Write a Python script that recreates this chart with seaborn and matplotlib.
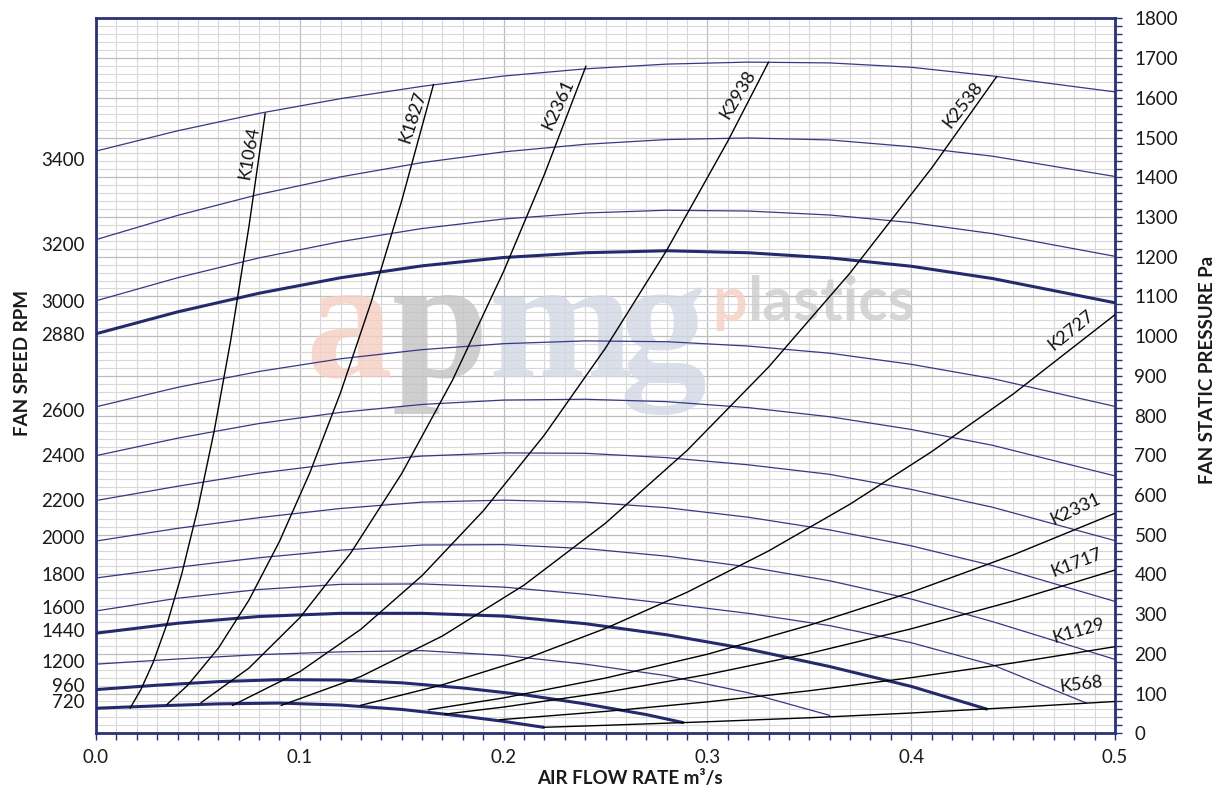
import matplotlib
matplotlib.use('Agg')
import matplotlib.pyplot as plt
from matplotlib.ticker import MultipleLocator
import seaborn as sns

# ---- fan curves (air flow m3/s, static pressure Pa) ----
flow_full = [0.0, 0.04, 0.08, 0.12, 0.16, 0.20, 0.24, 0.28, 0.32, 0.36, 0.40, 0.44, 0.50]
p_3400 = [1466, 1517, 1561, 1598, 1629, 1655, 1673, 1685, 1690, 1688, 1677, 1655, 1615]
p_3200 = [1243, 1304, 1357, 1401, 1437, 1464, 1483, 1495, 1499, 1494, 1477, 1453, 1402]
p_3000 = [1089, 1147, 1197, 1238, 1271, 1295, 1310, 1317, 1315, 1305, 1286, 1258, 1201]
p_2880 = [1006, 1061, 1108, 1147, 1177, 1198, 1210, 1215, 1210, 1197, 1176, 1145, 1084]
p_2600 = [822, 871, 911, 943, 966, 981, 988, 986, 975, 957, 929, 893, 823]
p_2400 = [699, 743, 780, 808, 828, 839, 841, 835, 820, 797, 765, 725, 648]
p_2200 = [586, 622, 655, 680, 698, 706, 705, 694, 676, 652, 614, 569, 485]
p_2000 = [484, 516, 543, 566, 582, 587, 582, 568, 544, 512, 472, 422, 332]
p_1800 = [391, 418, 442, 461, 474, 475, 465, 446, 419, 384, 338, 281, 186]

q_1600 = [0.0, 0.04, 0.08, 0.12, 0.16, 0.20, 0.24, 0.28, 0.32, 0.36, 0.40, 0.44, 0.486]
p_1600 = [308, 340, 362, 375, 376, 368, 350, 327, 302, 271, 228, 172, 76]
q_1440 = [0.0, 0.04, 0.08, 0.12, 0.16, 0.20, 0.24, 0.28, 0.32, 0.36, 0.40, 0.437]
p_1440 = [252, 277, 294, 302, 302, 295, 276, 248, 212, 168, 118, 61]
q_1200 = [0.0, 0.04, 0.08, 0.12, 0.16, 0.20, 0.24, 0.28, 0.32, 0.36]
p_1200 = [174, 187, 198, 205, 208, 196, 174, 145, 102, 45]
q_960 = [0.0, 0.03, 0.06, 0.09, 0.12, 0.15, 0.18, 0.21, 0.24, 0.27, 0.288]
p_960 = [110, 121, 130, 135, 134, 127, 114, 97, 74, 47, 27]
q_720 = [0.0, 0.03, 0.06, 0.09, 0.12, 0.15, 0.18, 0.20, 0.2196]
p_720 = [63, 69, 74, 76, 71, 60, 43, 30, 15]

bold_rpm = [720, 960, 1440, 2880]

# ---- system resistance curves ----
k1064_q = [0.0167, 0.022, 0.028, 0.035, 0.042, 0.050, 0.058, 0.066, 0.075, 0.083]
k1064_p = [63, 110, 178, 278, 400, 567, 762, 987, 1275, 1561]
k1827_q = [0.0347, 0.045, 0.06, 0.075, 0.09, 0.105, 0.12, 0.135, 0.15, 0.1656]
k1827_p = [72, 121, 214, 335, 483, 657, 858, 1086, 1341, 1634]
k2361_q = [0.0515, 0.075, 0.10, 0.125, 0.15, 0.175, 0.20, 0.22, 0.2404]
k2361_p = [77, 164, 291, 454, 654, 890, 1163, 1407, 1680]
k2938_q = [0.0669, 0.10, 0.13, 0.16, 0.19, 0.22, 0.25, 0.28, 0.31, 0.330]
k2938_p = [70, 155, 262, 397, 560, 751, 970, 1216, 1491, 1690]
k2538_q = [0.0908, 0.13, 0.17, 0.21, 0.25, 0.29, 0.33, 0.37, 0.41, 0.442]
k2538_p = [70, 143, 245, 373, 529, 712, 922, 1159, 1423, 1654]
k2727_q = [0.1296, 0.17, 0.21, 0.25, 0.29, 0.33, 0.37, 0.41, 0.45, 0.50]
k2727_p = [70, 122, 186, 264, 355, 459, 577, 709, 854, 1054]
k2331_q = [0.163, 0.20, 0.25, 0.30, 0.35, 0.40, 0.45, 0.50]
k2331_p = [59, 89, 139, 199, 272, 355, 449, 554]
k1717_q = [0.171, 0.20, 0.25, 0.30, 0.35, 0.40, 0.45, 0.50]
k1717_p = [48, 66, 103, 148, 201, 263, 333, 411]
k1129_q = [0.198, 0.25, 0.30, 0.35, 0.40, 0.45, 0.50]
k1129_p = [34, 55, 79, 107, 140, 177, 218]
k568_q = [0.2196, 0.25, 0.30, 0.35, 0.40, 0.45, 0.50]
k568_p = [15, 20, 29, 39, 51, 65, 80]

# label texts for the K curves
k_names = ['K1064', 'K1827', 'K2361', 'K2938', 'K2538', 'K2727', 'K2331', 'K1717', 'K1129', 'K568']

# left axis (fan speed) labels
rpm_labels = ['3400', '3200', '3000', '2880', '2600', '2400', '2200', '2000',
              '1800', '1600', '1440', '1200', '960', '720']
rpm_label_pa = [1447, 1231, 1088, 1006, 813, 701, 588, 493, 401, 318, 260, 182, 122, 80]

NAVY = '#2c3175'
FAN_THIN = '#343a84'
FAN_BOLD = '#252a6e'


def main():
    sns.set_theme(style='white')
    plt.rcParams['font.family'] = ['Lato', 'DejaVu Sans']

    fig = plt.figure(figsize=(12.25, 7.91), dpi=100)
    ax = fig.add_axes([0.0784, 0.0730, 0.8318, 0.9037])
    ax_l = ax.twinx()

    ax.set_xlim(0, 0.5)
    ax.set_ylim(0, 1800)
    ax_l.set_ylim(0, 1800)

    # grid
    ax.xaxis.set_major_locator(MultipleLocator(0.1))
    ax.xaxis.set_minor_locator(MultipleLocator(0.01))
    ax.yaxis.set_major_locator(MultipleLocator(100))
    ax.yaxis.set_minor_locator(MultipleLocator(20))
    ax.set_axisbelow(True)
    ax.grid(which='major', color='#bdbdbd', lw=0.9)
    ax.grid(which='minor', color='#d8d8d8', lw=0.8)

    # watermark
    wm = dict(ha='center', va='baseline', zorder=1.5, alpha=0.8,
              fontsize=125, fontweight='bold', family=['Liberation Serif', 'DejaVu Serif'])
    ax.text(0.1242, 898, 'a', color='#f6cfc2', **wm)
    ax.text(0.1689, 898, 'p', color='#c3c3c3', **wm)
    ax.text(0.2278, 898, 'm', color='#d2d7e4', **wm)
    ax.text(0.2783, 898, 'g', color='#d2d7e4', **wm)
    wm2 = dict(ha='left', va='baseline', zorder=1.5, alpha=0.8,
               fontsize=44, fontweight='bold', family=['Lato', 'DejaVu Sans'])
    ax.text(0.3024, 1037, 'p', color='#f6cfc2', **wm2)
    ax.text(0.3196, 1037, 'lastics', color='#cccccc', **wm2)

    # fan curves
    fans = [
        (3400, flow_full, p_3400), (3200, flow_full, p_3200), (3000, flow_full, p_3000),
        (2880, flow_full, p_2880), (2600, flow_full, p_2600), (2400, flow_full, p_2400),
        (2200, flow_full, p_2200), (2000, flow_full, p_2000), (1800, flow_full, p_1800),
        (1600, q_1600, p_1600), (1440, q_1440, p_1440), (1200, q_1200, p_1200),
        (960, q_960, p_960), (720, q_720, p_720),
    ]
    for rpm, q, p in fans:
        bold = rpm in bold_rpm
        sns.lineplot(x=q, y=p, ax=ax, sort=False, estimator=None, legend=False,
                     color=FAN_BOLD if bold else FAN_THIN,
                     linewidth=2.2 if bold else 0.9, zorder=3)

    # system curves
    systems = [(k1064_q, k1064_p), (k1827_q, k1827_p), (k2361_q, k2361_p),
               (k2938_q, k2938_p), (k2538_q, k2538_p), (k2727_q, k2727_p),
               (k2331_q, k2331_p), (k1717_q, k1717_p), (k1129_q, k1129_p),
               (k568_q, k568_p)]
    for q, p in systems:
        sns.lineplot(x=q, y=p, ax=ax, sort=False, estimator=None, legend=False,
                     color='black', linewidth=1.0, zorder=4)

    # K labels
    label_pos = [(0.0751, 1461, 80), (0.1556, 1551, 72), (0.2268, 1584, 65),
                 (0.3152, 1609, 59), (0.4256, 1583, 52), (0.4782, 1016, 39),
                 (0.4806, 565, 25), (0.4811, 429, 21), (0.4821, 257, 16),
                 (0.4833, 122, 7)]
    for name, (x, y, rot) in zip(k_names, label_pos):
        ax.text(x, y, name, rotation=rot, rotation_mode='anchor', ha='center',
                va='center', fontsize=13, color='#111111', zorder=5)

    # axes styling
    for sp in ax.spines.values():
        sp.set_color(NAVY)
        sp.set_linewidth(2.0)
        sp.set_visible(True)
    for sp in ax_l.spines.values():
        sp.set_visible(False)

    ax.set_xticks([0.0, 0.1, 0.2, 0.3, 0.4, 0.5], ['0.0', '0.1', '0.2', '0.3', '0.4', '0.5'])
    ax.tick_params(axis='x', which='both', direction='out', bottom=True, length=5,
                   width=1, color=NAVY, labelsize=13.5, pad=6, labelcolor='#1a1a1a')

    ax.yaxis.tick_right()
    ax.yaxis.set_label_position('right')
    ax.tick_params(axis='y', which='both', direction='out', right=True, left=False,
                   length=5, width=1, color=NAVY, labelsize=13.5, pad=9,
                   labelcolor='#1a1a1a')

    ax_l.yaxis.tick_left()
    ax_l.yaxis.set_label_position('left')
    ax_l.set_yticks(rpm_label_pa, rpm_labels)
    ax_l.tick_params(axis='y', length=0, pad=8, labelsize=13.5, labelcolor='#1a1a1a')
    ax_l.grid(False)

    ax.set_xlabel('AIR FLOW RATE m³/s', fontsize=13.5, fontweight='bold', color='#1a1a1a')
    ax.xaxis.set_label_coords(0.524, -0.052)
    ax.set_ylabel('FAN STATIC PRESSURE Pa', fontsize=13.5, fontweight='bold', color='#1a1a1a')
    ax.yaxis.set_label_coords(1.0824, 0.508)
    ax_l.set_ylabel('FAN SPEED RPM', fontsize=13.5, fontweight='bold', color='#1a1a1a')
    ax_l.yaxis.set_label_coords(-0.064, 0.518)

    fig.savefig('out.png', dpi=100)
    plt.close(fig)


if __name__ == '__main__':
    main()
